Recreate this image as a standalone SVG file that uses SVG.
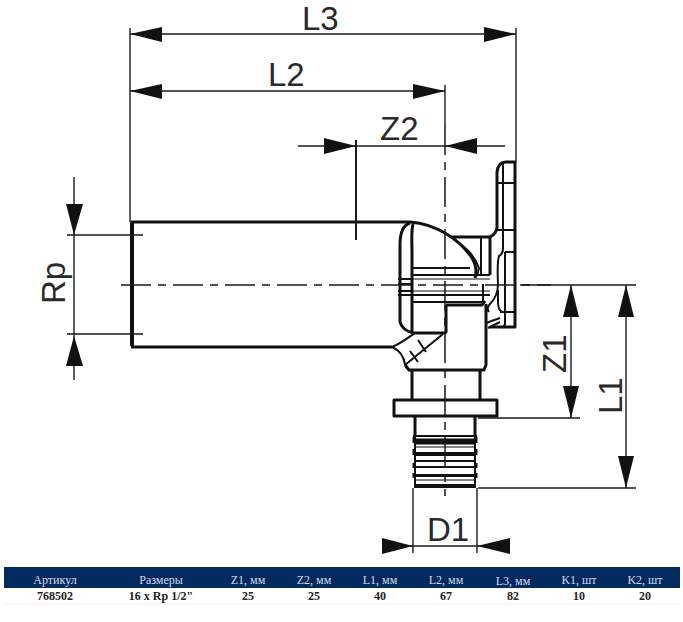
<svg xmlns="http://www.w3.org/2000/svg" width="683" height="622" viewBox="0 0 683 622">
<style>
.d{stroke:#1a1a1a;stroke-width:1.4;fill:none}
.c{stroke:#1a1a1a;stroke-width:1.5;fill:none;stroke-dasharray:30 7 8 7}
.t{stroke:#111;stroke-width:3;fill:none;stroke-linejoin:round}
.m{stroke:#111;stroke-width:2;fill:none;stroke-linejoin:round}
.n{stroke:#111;stroke-width:1.2;fill:none}
.a{fill:#111}
.l{font-family:"Liberation Sans",Arial,sans-serif;font-size:33px;fill:#2a2a2a}
.h{font-family:"Liberation Serif","Times New Roman",serif;font-size:12px;fill:#d5dcea;text-anchor:middle}
.v{font-family:"Liberation Serif","Times New Roman",serif;font-size:12px;font-weight:bold;fill:#222;text-anchor:middle}
</style>
<rect width="683" height="622" fill="#fff"/>
<g id="fitting">
<path style="stroke:#111;stroke-width:4;fill:none" d="M132 222V346"/>
<path class="t" d="M131 222H410C437 224 460 240 472 258Q478 268 475 278"/>
<path class="t" d="M131 347H392"/>
<path class="m" d="M452 238C464 246 474 254 479 268L477 276"/>
<path class="t" d="M410 223C403 225 400 232 400 245V322Q402 330 413 333"/>
<path class="t" d="M413 224C411 232 412 240 412 252V333"/>
<path class="t" d="M413 333H445L446 332V305"/>
<path class="m" d="M392 347C398 345 405 340 415 333M405 365L443 334M392 347C399 350 404 356 405 365M410 351L418 362M418 340L426 352"/>
<path class="t" d="M405 365L409 370H484L486 365V304"/>
<path class="t" d="M446 305H482L485 301"/>
<path class="m" d="M411 268H470M411 275H490M398 279H412M398 284H412M398 291H412M398 295H412M411 295H490M411 302H484"/>
<path class="n" d="M412 279H490M412 291H490"/>
<path class="t" d="M452 237H490V275"/>
<path class="m" d="M481 238V276M483 302V284"/>
<path class="t" d="M490 237Q496 234 497 228V172Q498 162 506 162H515V327H490"/>
<path class="m" d="M503 162V248Q503 254 499 256Q497 262 498 284Q498 296 490 304Q486 308 489 312"/>
<path class="m" d="M505 252H515M505 252V324L503 328M497 183H515M497 230H515M500 312H515M498 290V302Q498 311 503 312"/>
<path class="m" d="M486 323L500 318M488 328L500 322"/>
<path class="t" d="M412 370V399M480 370V399"/>
<path class="t" d="M394 400H497V416H394Z"/>
<path class="t" d="M415 416V436M475 416V436"/>
<path class="m" d="M413 436H477"/>
<path style="stroke:#111;stroke-width:6;fill:none" d="M414 441.500H476"/>
<path class="n" d="M414 447H476"/>
<path style="stroke:#111;stroke-width:4;fill:none" d="M414 454H476"/>
<path class="m" d="M414 461H476M414 467H476"/>
<path style="stroke:#111;stroke-width:3;fill:none" d="M414 475.500H476"/>
<path class="n" d="M414 480H476"/>
<path style="stroke:#111;stroke-width:4;fill:none" d="M415 486H475"/>
<path class="m" d="M415 436V488M475 436V488M413.500 437V443M476.500 437V443M413.500 449V455M476.500 449V455M413.500 463V468M476.500 463V468M413.500 473V478M476.500 473V478"/>
</g>
<g id="connectors">
<path class="c" d="M121 285H551"/>
<path class="c" d="M445 125V496"/>
<path class="d" d="M130 28V222M516 28V162M130 34H516M130 91H445M445 85V125"/>
<path class="d" d="M298 146H505"/>
<path style="stroke:#1a1a1a;stroke-width:2;fill:none" d="M356 140V240"/>
<path class="d" d="M67 235H143M67 334H143M74 177V380"/>
<path class="d" d="M520 285H636M478 418H580M478 488H636M571 285V418M626 285V488"/>
<path class="d" d="M413 488V553M477 488V553M382 546H510"/>
<g class="a">
<path d="M130 34L162 27V42ZM516 34L484 27V42Z"/>
<path d="M130 91L162 84V99ZM445 91L413 84V99Z"/>
<path d="M356 146L324 138V154ZM445 146L477 138V154Z"/>
<path d="M74 235L66 204H83ZM74 336L66 366H83Z"/>
<path d="M571 285L563 317H579ZM571 418L563 386H579Z"/>
<path d="M626 285L618 317H634ZM626 488L618 456H634Z"/>
<path d="M413 546L382 538V554ZM477 546L510 538V554Z"/>
</g>
</g>
<g id="labels">
<text class="l" x="302" y="30">L3</text>
<text class="l" x="268" y="86">L2</text>
<text class="l" x="380" y="140">Z2</text>
<text class="l" x="427" y="541">D1</text>
<text class="l" transform="translate(65 304) rotate(-90)">Rp</text>
<text class="l" transform="translate(566 373) rotate(-90)">Z1</text>
<text class="l" transform="translate(622 414) rotate(-90)">L1</text>
</g>
<g id="table">
<rect x="4" y="567" width="676" height="21" fill="#022a5e"/>
<path stroke="#f2f2f2" stroke-width="1" d="M4 604H680" fill="none"/>
<text class="h" x="55" y="584">Артикул</text>
<text class="h" x="161" y="584">Размеры</text>
<text class="h" x="248" y="584">Z1, мм</text>
<text class="h" x="314" y="584">Z2, мм</text>
<text class="h" x="380" y="584">L1, мм</text>
<text class="h" x="446" y="584">L2, мм</text>
<text class="h" x="513" y="585">L3, мм</text>
<text class="h" x="579" y="584">K1, шт</text>
<text class="h" x="645" y="584">K2, шт</text>
<text class="v" x="55" y="600">768502</text>
<text class="v" x="161" y="600">16 x Rp 1/2"</text>
<text class="v" x="248" y="600">25</text>
<text class="v" x="314" y="600">25</text>
<text class="v" x="380" y="600">40</text>
<text class="v" x="446" y="600">67</text>
<text class="v" x="513" y="600">82</text>
<text class="v" x="579" y="600">10</text>
<text class="v" x="645" y="600">20</text>
</g>
</svg>
